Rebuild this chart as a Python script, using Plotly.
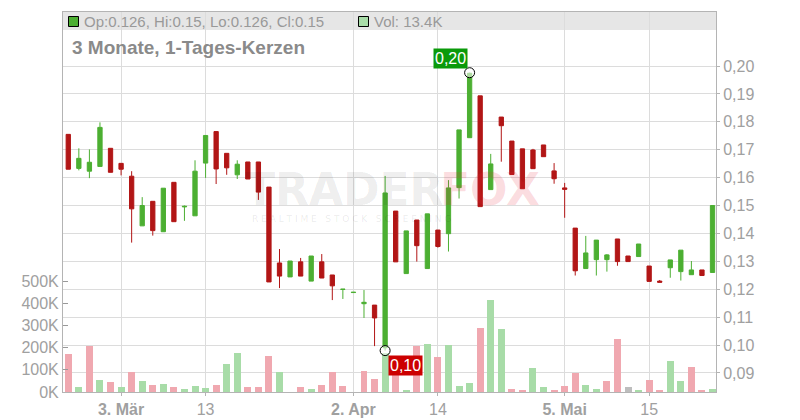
import plotly.graph_objects as go
import pandas as pd

# ---- data -------------------------------------------------------------
holidays = ["2025-04-18", "2025-04-21", "2025-05-01"]
dates = [d.strftime("%Y-%m-%d") for d in pd.bdate_range("2025-02-24", "2025-05-23")
         if d.strftime("%Y-%m-%d") not in holidays]

opens = [0.1755, 0.1633, 0.1623, 0.1640, 0.1705, 0.1651, 0.1605, 0.1427, 0.1515, 0.1406,
         0.1583, 0.1495, 0.1463, 0.1652, 0.1765, 0.1687, 0.1610, 0.1656, 0.1656, 0.1566,
         0.1294, 0.1244, 0.1298, 0.1229, 0.1298, 0.1251, 0.1199, 0.1188, 0.1148, 0.1143,
         0.0990, 0.1480, 0.1256, 0.1448, 0.1274, 0.1412, 0.1399, 0.1564, 0.1743, 0.1893,
         0.1557, 0.1817, 0.1731, 0.1703, 0.1699, 0.1717, 0.1624, 0.1563, 0.1419, 0.1274,
         0.1306, 0.1306, 0.1380, 0.1319, 0.1317, 0.1283, 0.1229, 0.1277, 0.1263, 0.1252,
         0.1269, 0.126]
highs = [0.1755, 0.1705, 0.1701, 0.1798, 0.1705, 0.1651, 0.1623, 0.1530, 0.1515, 0.1562,
         0.1583, 0.1500, 0.1662, 0.1751, 0.1765, 0.1687, 0.1662, 0.1656, 0.1656, 0.1566,
         0.1344, 0.1301, 0.1312, 0.1319, 0.1326, 0.1251, 0.1200, 0.1189, 0.1197, 0.1143,
         0.1606, 0.1480, 0.1409, 0.1448, 0.1470, 0.1412, 0.1591, 0.1771, 0.1976, 0.1893,
         0.1685, 0.1817, 0.1731, 0.1703, 0.1703, 0.1717, 0.1652, 0.1581, 0.1419, 0.1391,
         0.1376, 0.1326, 0.1380, 0.1319, 0.1362, 0.1283, 0.1233, 0.1305, 0.1340, 0.1301,
         0.1269, 0.15]
lows = [0.1630, 0.1626, 0.1598, 0.1640, 0.1619, 0.1608, 0.1367, 0.1427, 0.1392, 0.1406,
        0.1442, 0.1445, 0.1463, 0.1599, 0.1577, 0.1610, 0.1595, 0.1595, 0.1520, 0.1226,
        0.1204, 0.1244, 0.1247, 0.1229, 0.1240, 0.1161, 0.1165, 0.1188, 0.1097, 0.0996,
        0.0980, 0.1298, 0.1256, 0.1299, 0.1274, 0.1349, 0.1335, 0.1525, 0.1743, 0.1496,
        0.1557, 0.1657, 0.1611, 0.1560, 0.1632, 0.1675, 0.1578, 0.1456, 0.1249, 0.1274,
        0.1249, 0.1263, 0.1284, 0.1299, 0.1317, 0.1228, 0.1225, 0.1241, 0.1231, 0.1252,
        0.1249, 0.126]
closes = [0.1630, 0.1669, 0.1655, 0.1780, 0.1619, 0.1630, 0.1488, 0.1500, 0.1410, 0.1562,
          0.1442, 0.1497, 0.1623, 0.1751, 0.1631, 0.1635, 0.1648, 0.1595, 0.1548, 0.1226,
          0.1247, 0.1301, 0.1247, 0.1319, 0.1240, 0.1212, 0.1200, 0.1189, 0.1153, 0.1097,
          0.1545, 0.1298, 0.1409, 0.1356, 0.1470, 0.1353, 0.1563, 0.1771, 0.1974, 0.1496,
          0.1649, 0.1786, 0.1611, 0.1560, 0.1632, 0.1675, 0.1596, 0.1558, 0.1266, 0.1330,
          0.1376, 0.1323, 0.1299, 0.1299, 0.1362, 0.1228, 0.1225, 0.1305, 0.1340, 0.1269,
          0.1249, 0.15]
volumes_k = [171, 24, 209, 56, 45, 24, 92, 50, 33, 38,
             24, 15, 29, 20, 33, 128, 177, 24, 24, 164,
             92, 0, 24, 15, 33, 92, 29, 0, 96, 60,
             176, 120, 6, 209, 218, 159, 212, 29, 42, 290,
             416, 285, 15, 6, 110, 24, 11, 29, 87, 33,
             15, 51, 240, 24, 6, 56, 6, 141, 51, 114,
             11, 13.4]

tick_dates = ["2025-03-03", "2025-03-13", "2025-04-02", "2025-04-14", "2025-05-05", "2025-05-15"]
tick_labels = ["<b>3. Mär</b>", "13", "<b>2. Apr</b>", "14", "<b>5. Mai</b>", "15"]
price_ticks = [0.09, 0.10, 0.11, 0.12, 0.13, 0.14, 0.15, 0.16, 0.17, 0.18, 0.19, 0.20]
vol_ticks = [0, 100, 200, 300, 400, 500]
vol_tick_labels = ["0K", "100K", "200K", "300K", "400K", "500K"]

title_text = "3 Monate, 1-Tages-Kerzen"

# ---- styles -----------------------------------------------------------
GREEN = "#4caf32"
RED = "#b21616"
VOL_UP = "#a8dca8"
VOL_DN = "#f0a8b0"
VOL_EQ = "#bdbdbd"
GRID = "#dcdcdc"
AXIS = "#b4b4b4"
TXT = "#a0a0a0"
FONT = "Liberation Sans, Arial, sans-serif"

vol_colors = []
for i, c in enumerate(closes):
    ref = opens[i] if i == 0 else closes[i - 1]
    vol_colors.append(VOL_UP if c > ref else (VOL_DN if c < ref else VOL_EQ))

ih = max(range(len(highs)), key=lambda i: highs[i])
il = min(range(len(lows)), key=lambda i: lows[i])

fig = go.Figure()
fig.add_trace(go.Bar(x=dates, y=volumes_k, marker_color=vol_colors, marker_line_width=0,
                     width=0.66, yaxis="y", hoverinfo="skip", showlegend=False))
fig.add_trace(go.Candlestick(
    x=dates, open=opens, high=highs, low=lows, close=closes, yaxis="y2",
    increasing=dict(line=dict(color=GREEN, width=1), fillcolor=GREEN),
    decreasing=dict(line=dict(color=RED, width=1), fillcolor=RED),
    whiskerwidth=0, showlegend=False, hoverinfo="skip"))
fig.add_trace(go.Scatter(
    x=[dates[ih], dates[il]], y=[highs[ih], lows[il]], mode="markers", yaxis="y2",
    marker=dict(size=10, color="rgba(255,255,255,0.55)", line=dict(color="black", width=1)),
    showlegend=False, hoverinfo="skip"))

# page body has an 8px margin: figure is placed at (8, 8) in the window
OFF = 8
SX0, SX1, SY0, SY1 = 63, 716, 12, 392          # plot area in window pixels
W, H = 800 - OFF, 420 - OFF
L, T = SX0 - OFF, SY0 - OFF
R, B = W - (SX1 - OFF), H - (SY1 - OFF)
pw, ph = SX1 - SX0, SY1 - SY0

def px_x(x):
    return (x - SX0) / pw

def px_y(y):
    return (SY1 - y) / ph

shapes = [
    dict(type="rect", xref="paper", yref="paper", x0=0, x1=1, y0=px_y(30), y1=1,
         fillcolor="#e6e6e6", line=dict(width=0), layer="below"),
    dict(type="rect", xref="paper", yref="paper", x0=px_x(68.5), x1=px_x(78.5),
         y0=px_y(26.5), y1=px_y(16.5), fillcolor=GREEN, line=dict(color="black", width=1)),
    dict(type="rect", xref="paper", yref="paper", x0=px_x(358.5), x1=px_x(368.5),
         y0=px_y(26.5), y1=px_y(16.5), fillcolor=VOL_UP, line=dict(color="black", width=1)),
]

def fmt(v):
    return ("%g" % v)

annotations = [
    dict(xref="paper", yref="paper", x=px_x(82), y=px_y(21.5), xanchor="left", yanchor="middle",
         text="Op:%s, Hi:%s, Lo:%s, Cl:%s" % (fmt(opens[-1]), fmt(highs[-1]), fmt(lows[-1]), fmt(closes[-1])),
         showarrow=False, font=dict(family=FONT, size=15, color="#999999")),
    dict(xref="paper", yref="paper", x=px_x(372), y=px_y(21.5), xanchor="left", yanchor="middle",
         text="Vol: %sK" % fmt(volumes_k[-1]),
         showarrow=False, font=dict(family=FONT, size=15, color="#999999")),
    dict(xref="paper", yref="paper", x=px_x(70), y=px_y(47.5), xanchor="left", yanchor="middle",
         text="<b>%s</b>" % title_text, showarrow=False,
         font=dict(family=FONT, size=19, color="#8a8a8a")),
    dict(xref="paper", yref="paper", x=px_x(243), y=px_y(189), xanchor="left", yanchor="middle",
         text="<b>TRADER</b>", showarrow=False,
         font=dict(family="DejaVu Sans, sans-serif", size=44, color="rgba(0,0,0,0.085)")),
    dict(xref="paper", yref="paper", x=px_x(438), y=px_y(189), xanchor="left", yanchor="middle",
         text="<b>FOX</b>", showarrow=False,
         font=dict(family="DejaVu Sans, sans-serif", size=44, color="rgba(230,40,60,0.17)")),
    dict(xref="paper", yref="paper", x=px_x(250), y=px_y(219), xanchor="left", yanchor="middle",
         text="R E A L T I M E   S T O C K   S C R E E N I N G", showarrow=False,
         font=dict(family="DejaVu Sans, sans-serif", size=9, color="rgba(0,0,0,0.09)")),
    dict(x=dates[ih], y=highs[ih], xref="x", yref="y2", xanchor="right", yanchor="bottom",
         xshift=-2, yshift=4, text=("%.2f" % highs[ih]).replace(".", ","), showarrow=False,
         bgcolor="#0a9a0a", borderpad=1, font=dict(family=FONT, size=16, color="white")),
    dict(x=dates[il], y=lows[il], xref="x", yref="y2", xanchor="left", yanchor="top",
         xshift=3, yshift=-4, text=("%.2f" % lows[il]).replace(".", ","), showarrow=False,
         bgcolor="#cc0000", borderpad=1, font=dict(family=FONT, size=16, color="white")),
]

fig.update_layout(
    template="none",
    width=W, height=H, margin=dict(l=L, r=R, t=T, b=B, pad=0, autoexpand=False),
    paper_bgcolor="white", plot_bgcolor="rgba(0,0,0,0)",
    separators=",.", showlegend=False, boxgap=0.42, bargap=0,
    font=dict(family=FONT, size=16, color=TXT),
    shapes=shapes, annotations=annotations,
    xaxis=dict(type="category", range=[-0.5, 61.33], tickvals=tick_dates, ticktext=tick_labels,
               showgrid=True, gridcolor=GRID, gridwidth=1, ticks="outside", ticklen=3,
               tickcolor=AXIS, showline=True, mirror=True, linecolor=AXIS, linewidth=1,
               tickfont=dict(family=FONT, size=16, color=TXT), rangeslider=dict(visible=False),
               fixedrange=True, automargin=False, zeroline=False),
    yaxis=dict(range=[0, 1711.7], tickvals=vol_ticks, ticktext=vol_tick_labels, showgrid=False,
               ticks="inside", ticklen=5, tickcolor="#999999", showline=True, linecolor=AXIS,
               zeroline=False, side="left", tickfont=dict(family=FONT, size=16, color=TXT),
               fixedrange=True, automargin=False),
    yaxis2=dict(overlaying="y", side="right", range=[0.083154, 0.219355], tickvals=price_ticks,
                tickformat=".2f", showgrid=True, gridcolor=GRID, ticks="outside", ticklen=3,
                tickcolor=AXIS, showline=True, linecolor=AXIS, zeroline=False,
                tickfont=dict(family=FONT, size=16, color=TXT), fixedrange=True, automargin=False),
)

fig.write_html("out.html", config={"displayModeBar": False})
